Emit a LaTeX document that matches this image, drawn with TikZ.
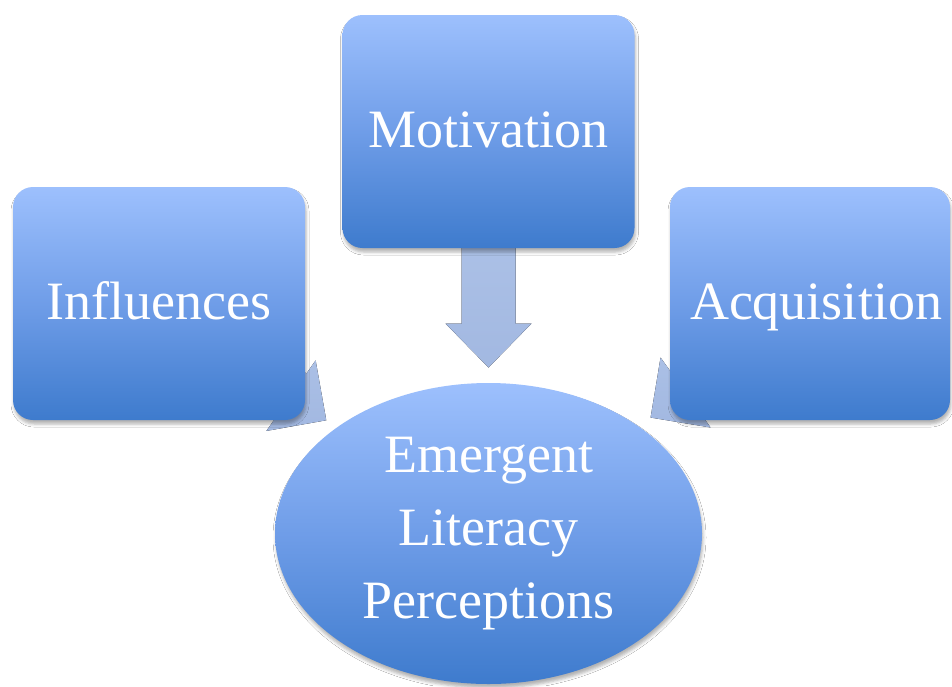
\documentclass[tikz,border=0pt]{standalone}
\usepackage{fontspec}
\setmainfont{Liberation Serif}
\usetikzlibrary{shapes.geometric,calc,shadows.blur,backgrounds}
\definecolor{shadetop}{HTML}{9DC0FD}
\definecolor{shademid}{HTML}{6F9DE8}
\definecolor{shadebot}{HTML}{3E7BCD}
\definecolor{arrowtop}{HTML}{B4C8EB}
\definecolor{arrowbot}{HTML}{A2B8E1}

% block arrow: from #1 towards #2, tip at distance #3, head base at distance #4
\newcommand\flowarrow[4]{%
  \coordinate (hb) at ($(#1)!#4!(#2)$);
  \coordinate (tp) at ($(#1)!#3!(#2)$);
  \fill[arrowfill] ($(#1)!27pt!90:(#2)$) -- ($(hb)!27pt!90:(tp)$)
    -- ($(hb)!43pt!90:(tp)$) -- (tp) -- ($(hb)!43pt!-90:(tp)$)
    -- ($(hb)!27pt!-90:(tp)$) -- ($(#1)!27pt!-90:(#2)$) -- cycle;
}

\begin{document}
\begin{tikzpicture}[x=1pt,y=-1pt,
  softshadow/.style={blur shadow={shadow xshift=1pt, shadow yshift=-4pt,
      shadow blur radius=3pt, shadow opacity=30}},
  panel/.style={rectangle, rounded corners=20pt, minimum width=292pt,
      minimum height=233pt, inner sep=0pt, top color=shadetop,
      bottom color=shadebot, middle color=shademid, text=white,
      text height=44pt, text depth=12pt,
      font=\fontsize{54}{73}\selectfont, softshadow},
  oval/.style={ellipse, minimum width=427pt, minimum height=301pt,
      inner sep=0pt, top color=shadetop, bottom color=shadebot,
      middle color=shademid, text=white, align=center,
      font=\fontsize{54}{73}\selectfont, softshadow},
  arrowfill/.style={top color=arrowtop, bottom color=arrowbot}]
\useasboundingbox (0,0) rectangle (952,686);

\node[panel] (mot) at (488.5,131.5) {Motivation};
\node[panel] (inf) at (159,303.5) {Influences};
\node[panel, minimum width=280pt] (acq) at (810,303.5) {\hspace*{12pt}Acquisition};
\node[oval] (emp) at (488.5,533.5) {Emergent\\Literacy\\Perceptions};

\begin{scope}[on background layer]
  \fill[white] (0,0) rectangle (952,686);
  \flowarrow{mot.center}{emp.center}{236pt}{192pt}
  \flowarrow{inf.center}{emp.center}{204pt}{161pt}
  \flowarrow{acq.center}{emp.center}{196pt}{153pt}
\end{scope}
\end{tikzpicture}
\end{document}
